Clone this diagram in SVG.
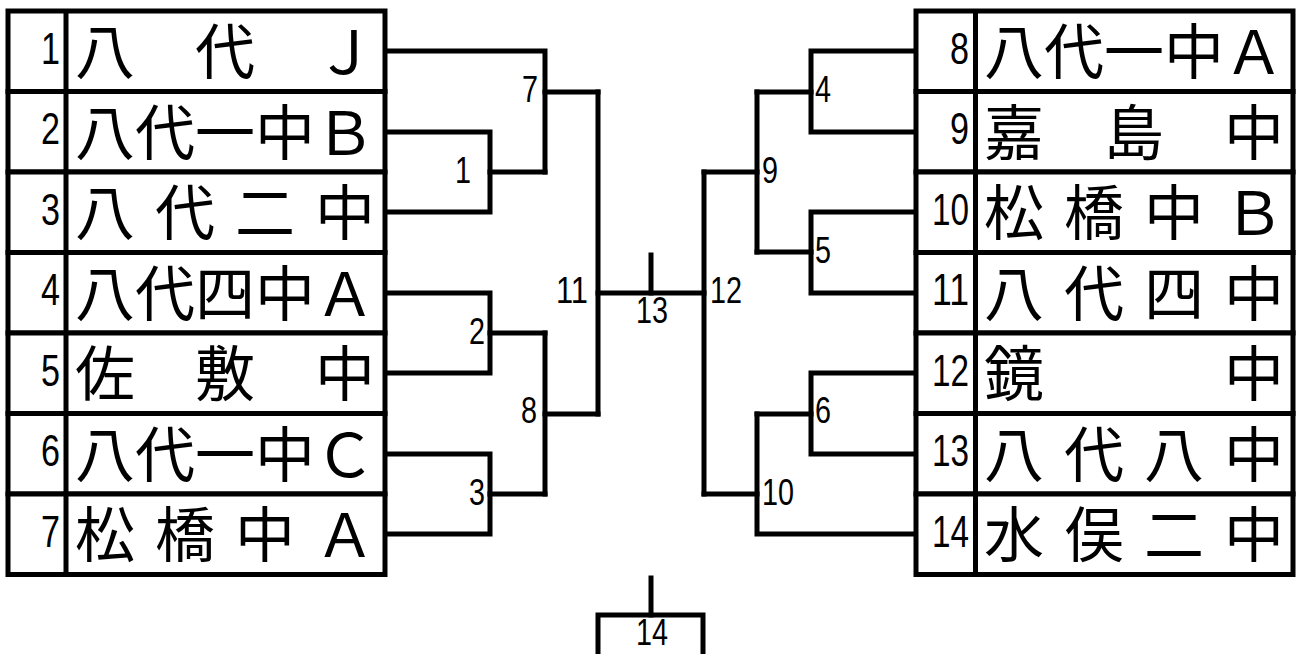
<svg xmlns="http://www.w3.org/2000/svg" width="1298" height="654" viewBox="0 0 1298 654">
<style>
.cell{fill:#fff;stroke:#000;stroke-width:5}
.div{stroke:#000;stroke-width:5}
.ln{stroke:#000;stroke-width:5;fill:none;stroke-linecap:square;stroke-linejoin:miter}
.num{font-family:"Liberation Sans",Arial,sans-serif;font-size:45px;fill:#000}
.name{font-family:"Noto Sans CJK JP","Noto Sans CJK SC",sans-serif;font-size:60px;fill:#000}
.lbl{font-family:"Liberation Sans",Arial,sans-serif;font-size:36px;fill:#000}
</style>
<rect width="1298" height="654" fill="#fff"/>
<g id="connectors">
<path class="ln" d="M385 132 H490 V212 H385"/>
<path class="ln" d="M490 172 H545"/>
<path class="ln" d="M385 51 H545 V172"/>
<path class="ln" d="M545 92 H598"/>
<path class="ln" d="M385 293 H490 V373 H385"/>
<path class="ln" d="M490 333 H545"/>
<path class="ln" d="M385 454 H490 V534 H385"/>
<path class="ln" d="M490 494 H545"/>
<path class="ln" d="M545 333 V494"/>
<path class="ln" d="M545 414 H598"/>
<path class="ln" d="M598 92 V414"/>
<path class="ln" d="M598 293 H704"/>
<path class="ln" d="M651 255 V293"/>
<path class="ln" d="M704 172 V494"/>
<path class="ln" d="M704 172 H757"/>
<path class="ln" d="M704 494 H757"/>
<path class="ln" d="M757 92 V252"/>
<path class="ln" d="M757 92 H811"/>
<path class="ln" d="M757 252 H811"/>
<path class="ln" d="M916 51 H811 V132 H916"/>
<path class="ln" d="M916 212 H811 V293 H916"/>
<path class="ln" d="M757 414 V534 H916"/>
<path class="ln" d="M757 414 H811"/>
<path class="ln" d="M916 373 H811 V454 H916"/>
<path class="ln" d="M651 578 V615"/>
<path class="ln" d="M598 660 V615 H703 V660"/>
</g>
<g id="match-labels">
<text class="lbl" x="455" y="183" textLength="16" lengthAdjust="spacingAndGlyphs">1</text>
<text class="lbl" x="469" y="344" textLength="16" lengthAdjust="spacingAndGlyphs">2</text>
<text class="lbl" x="469" y="505" textLength="16" lengthAdjust="spacingAndGlyphs">3</text>
<text class="lbl" x="815" y="102" textLength="16" lengthAdjust="spacingAndGlyphs">4</text>
<text class="lbl" x="815" y="263" textLength="16" lengthAdjust="spacingAndGlyphs">5</text>
<text class="lbl" x="815" y="423" textLength="16" lengthAdjust="spacingAndGlyphs">6</text>
<text class="lbl" x="522" y="102" textLength="16" lengthAdjust="spacingAndGlyphs">7</text>
<text class="lbl" x="521" y="423" textLength="16" lengthAdjust="spacingAndGlyphs">8</text>
<text class="lbl" x="762" y="183" textLength="16" lengthAdjust="spacingAndGlyphs">9</text>
<text class="lbl" x="762" y="505" textLength="32" lengthAdjust="spacingAndGlyphs">10</text>
<text class="lbl" x="556" y="303" textLength="32" lengthAdjust="spacingAndGlyphs">11</text>
<text class="lbl" x="710" y="303" textLength="32" lengthAdjust="spacingAndGlyphs">12</text>
<text class="lbl" x="636" y="323" textLength="32" lengthAdjust="spacingAndGlyphs">13</text>
<text class="lbl" x="636" y="645" textLength="32" lengthAdjust="spacingAndGlyphs">14</text>
</g>
<g id="team-1"><rect class="cell" x="8" y="11" width="377" height="80.5"/><line class="div" x1="66" y1="11" x2="66" y2="91.5"/><text class="num" x="60" y="64" text-anchor="end" textLength="19" lengthAdjust="spacingAndGlyphs">1</text><text class="name" x="75 195 315" y="74">八代Ｊ</text></g>
<g id="team-2"><rect class="cell" x="8" y="91.5" width="377" height="80.5"/><line class="div" x1="66" y1="91.5" x2="66" y2="172"/><text class="num" x="60" y="144" text-anchor="end" textLength="19" lengthAdjust="spacingAndGlyphs">2</text><text class="name" x="75 135 195 255 315" y="155">八代一中Ｂ</text></g>
<g id="team-3"><rect class="cell" x="8" y="172" width="377" height="80.5"/><line class="div" x1="66" y1="172" x2="66" y2="252.5"/><text class="num" x="60" y="225" text-anchor="end" textLength="19" lengthAdjust="spacingAndGlyphs">3</text><text class="name" x="75 155 235 315" y="235">八代二中</text></g>
<g id="team-4"><rect class="cell" x="8" y="252.5" width="377" height="80.5"/><line class="div" x1="66" y1="252.5" x2="66" y2="333"/><text class="num" x="60" y="305" text-anchor="end" textLength="19" lengthAdjust="spacingAndGlyphs">4</text><text class="name" x="75 135 195 255 315" y="316">八代四中Ａ</text></g>
<g id="team-5"><rect class="cell" x="8" y="333" width="377" height="80.5"/><line class="div" x1="66" y1="333" x2="66" y2="413.5"/><text class="num" x="60" y="386" text-anchor="end" textLength="19" lengthAdjust="spacingAndGlyphs">5</text><text class="name" x="75 195 315" y="396">佐敷中</text></g>
<g id="team-6"><rect class="cell" x="8" y="413.5" width="377" height="80.5"/><line class="div" x1="66" y1="413.5" x2="66" y2="494"/><text class="num" x="60" y="466" text-anchor="end" textLength="19" lengthAdjust="spacingAndGlyphs">6</text><text class="name" x="75 135 195 255 315" y="477">八代一中Ｃ</text></g>
<g id="team-7"><rect class="cell" x="8" y="494" width="377" height="80.5"/><line class="div" x1="66" y1="494" x2="66" y2="574.5"/><text class="num" x="60" y="547" text-anchor="end" textLength="19" lengthAdjust="spacingAndGlyphs">7</text><text class="name" x="75 155 235 315" y="557">松橋中Ａ</text></g>
<g id="team-8"><rect class="cell" x="916" y="11" width="377" height="80.5"/><line class="div" x1="975.5" y1="11" x2="975.5" y2="91.5"/><text class="num" x="969" y="64" text-anchor="end" textLength="19" lengthAdjust="spacingAndGlyphs">8</text><text class="name" x="984 1044 1104 1164 1224" y="74">八代一中Ａ</text></g>
<g id="team-9"><rect class="cell" x="916" y="91.5" width="377" height="80.5"/><line class="div" x1="975.5" y1="91.5" x2="975.5" y2="172"/><text class="num" x="969" y="144" text-anchor="end" textLength="19" lengthAdjust="spacingAndGlyphs">9</text><text class="name" x="984 1104 1224" y="155">嘉島中</text></g>
<g id="team-10"><rect class="cell" x="916" y="172" width="377" height="80.5"/><line class="div" x1="975.5" y1="172" x2="975.5" y2="252.5"/><text class="num" x="969" y="225" text-anchor="end" textLength="37" lengthAdjust="spacingAndGlyphs">10</text><text class="name" x="984 1064 1144 1224" y="235">松橋中Ｂ</text></g>
<g id="team-11"><rect class="cell" x="916" y="252.5" width="377" height="80.5"/><line class="div" x1="975.5" y1="252.5" x2="975.5" y2="333"/><text class="num" x="969" y="305" text-anchor="end" textLength="37" lengthAdjust="spacingAndGlyphs">11</text><text class="name" x="984 1064 1144 1224" y="316">八代四中</text></g>
<g id="team-12"><rect class="cell" x="916" y="333" width="377" height="80.5"/><line class="div" x1="975.5" y1="333" x2="975.5" y2="413.5"/><text class="num" x="969" y="386" text-anchor="end" textLength="37" lengthAdjust="spacingAndGlyphs">12</text><text class="name" x="984 1224" y="396">鏡中</text></g>
<g id="team-13"><rect class="cell" x="916" y="413.5" width="377" height="80.5"/><line class="div" x1="975.5" y1="413.5" x2="975.5" y2="494"/><text class="num" x="969" y="466" text-anchor="end" textLength="37" lengthAdjust="spacingAndGlyphs">13</text><text class="name" x="984 1064 1144 1224" y="477">八代八中</text></g>
<g id="team-14"><rect class="cell" x="916" y="494" width="377" height="80.5"/><line class="div" x1="975.5" y1="494" x2="975.5" y2="574.5"/><text class="num" x="969" y="547" text-anchor="end" textLength="37" lengthAdjust="spacingAndGlyphs">14</text><text class="name" x="984 1064 1144 1224" y="557">水俣二中</text></g>
</svg>
